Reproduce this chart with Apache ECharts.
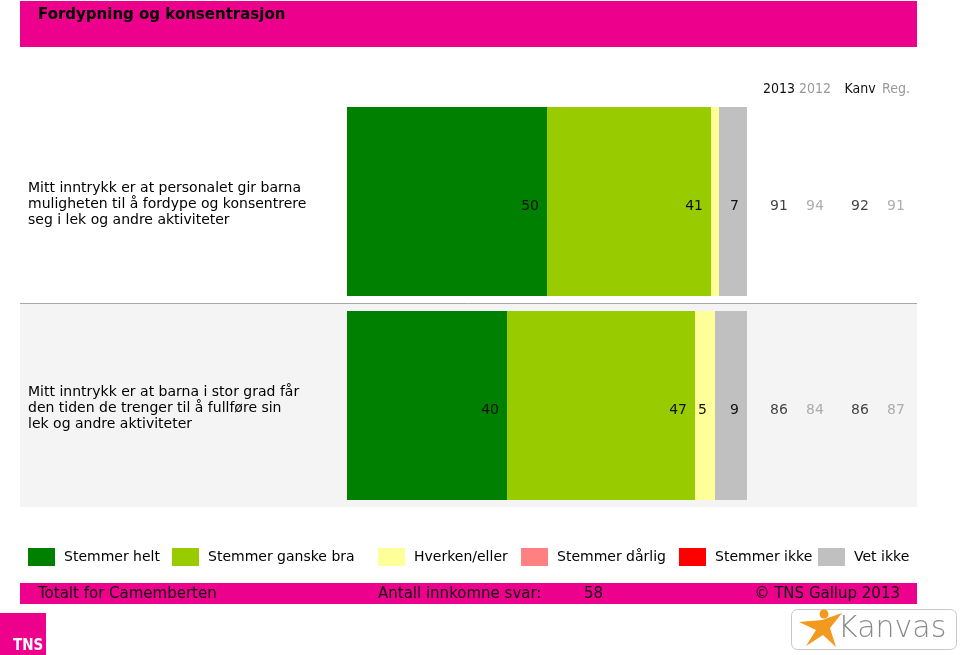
<!DOCTYPE html>
<html>
<head>
<meta charset="utf-8">
<script src="https://cdn.jsdelivr.net/npm/echarts@6/dist/echarts.min.js"></script>
<style>html,body{margin:0;padding:0;background:#fff}#c{width:960px;height:655px}</style>
</head>
<body>
<div id="c"></div>
<script>
// ---- data ----
const categories = [
  'Mitt inntrykk er at personalet gir barna\nmuligheten til å fordype og konsentrere\nseg i lek og andre aktiviteter',
  'Mitt inntrykk er at barna i stor grad får\nden tiden de trenger til å fullføre sin\nlek og andre aktiviteter'
];
const seriesNames = ['Stemmer helt', 'Stemmer ganske bra', 'Hverken/eller', 'Stemmer dårlig', 'Stemmer ikke', 'Vet ikke'];
const stemmerHelt = [50, 40];
const stemmerGanskeBra = [41, 47];
const hverkenEller = [2, 5];
const stemmerDarlig = [0, 0];
const stemmerIkke = [0, 0];
const vetIkke = [7, 9];
const compareHeadersA = ['2013', '2012'];
const compareHeadersB = ['Kanv', 'Reg.'];
const compare2013 = [91, 86];
const compare2012 = [94, 84];
const compareKanv = [92, 86];
const compareReg = [91, 87];
const chartTitle = 'Fordypning og konsentrasjon';
const footerLeft = 'Totalt for Camemberten';
const footerMid = 'Antall innkomne svar:';
const respondents = 58;
const footerRight = '© TNS Gallup 2013';

// ---- styles ----
const FONT = '"DejaVu Sans", Verdana, sans-serif';
const FONT_C = '"DejaVu Sans Condensed", "DejaVu Sans", sans-serif';
const MAGENTA = '#EC008C';
const colors = ['#008000', '#99CC00', '#FFFF99', '#FF8080', '#FF0000', '#C0C0C0'];
const values = [stemmerHelt, stemmerGanskeBra, hverkenEller, stemmerDarlig, stemmerIkke, vetIkke];

const barSeries = seriesNames.map((name, i) => ({
  name, type: 'bar', stack: 'total', xAxisIndex: 0, yAxisIndex: 0,
  barWidth: 189, data: values[i],
  itemStyle: { color: colors[i] },
  label: {
    show: true, position: 'insideRight', distance: 8, offset: [0, 5],
    color: '#111', fontFamily: FONT, fontSize: 14,
    formatter: p => (p.value >= 3 ? String(p.value) : '')
  }
}));

function cmpSeries(name, arr, col, axis, dark) {
  return {
    name, type: 'scatter', xAxisIndex: axis, yAxisIndex: axis,
    symbolSize: 1, itemStyle: { color: 'rgba(0,0,0,0)' },
    data: arr.map((v, i) => [col, i, v]),
    label: {
      show: true, position: 'inside', offset: [0, 5],
      color: dark ? '#111' : '#999', fontFamily: FONT, fontSize: 14,
      formatter: p => String(p.value[2])
    }
  };
}

const legendLefts = [28, 172, 378, 521, 679, 818];
const legends = seriesNames.map((n, i) => ({
  data: [n], left: legendLefts[i], top: 548, padding: 0, itemWidth: 27, itemHeight: 18,
  icon: 'rect', selectedMode: false, itemStyle: { borderWidth: 0 },
  textStyle: { fontFamily: FONT, fontSize: 14, color: '#000', padding: [0, 0, 0, 4] }
}));

const gridTop = 99.5, gridH = 408;
const hdrColor = (v, idx) => (idx === 0 ? '#111' : '#999');
const catY = (idx, showLabels) => ({
  type: 'category', gridIndex: idx, data: categories, inverse: true,
  axisLine: { show: false }, axisTick: { show: false }, splitLine: { show: false },
  axisLabel: { show: showLabels, align: 'left', margin: 319, fontFamily: FONT, fontSize: 14,
    lineHeight: 16, color: '#000' }
});
const hdrX = (idx, data) => ({
  type: 'category', gridIndex: idx, data, position: 'top',
  axisLine: { show: false }, axisTick: { show: false }, splitLine: { show: false },
  axisLabel: { interval: 0, margin: 3, fontFamily: FONT_C, fontSize: 14, color: hdrColor }
});

const option = {
  animation: false,
  backgroundColor: '#fff',
  grid: [
    { left: 347, top: gridTop, width: 400, height: gridH },
    { left: 761, top: gridTop, width: 72, height: gridH },
    { left: 842, top: gridTop, width: 72, height: gridH },
    { left: 347, top: gridTop + 3, width: 400, height: gridH }
  ],
  xAxis: [
    { type: 'value', gridIndex: 0, min: 0, max: 100, show: false },
    hdrX(1, compareHeadersA),
    hdrX(2, compareHeadersB),
    { type: 'value', gridIndex: 3, min: 0, max: 100, show: false }
  ],
  yAxis: [catY(0, false), catY(1, false), catY(2, false), catY(3, true)],
  legend: legends,
  series: barSeries.concat([
    cmpSeries('2013', compare2013, 0, 1, true),
    cmpSeries('2012', compare2012, 1, 1, false),
    cmpSeries('Kanv', compareKanv, 0, 2, true),
    cmpSeries('Reg.', compareReg, 1, 2, false)
  ]),
  graphic: [
    { type: 'rect', z: -10, shape: { x: 20, y: 1, width: 897, height: 46 }, style: { fill: MAGENTA } },
    { type: 'text', z: 10, x: 38, y: 15, style: { text: chartTitle, fill: '#000', font: 'bold 15px ' + FONT, textVerticalAlign: 'middle' } },
    { type: 'rect', z: -10, shape: { x: 20, y: 303, width: 897, height: 204 }, style: { fill: '#F4F4F4' } },
    { type: 'line', z: -9, shape: { x1: 20, y1: 303.5, x2: 917, y2: 303.5 }, style: { stroke: '#A8A8A8', lineWidth: 1 } },
    { type: 'rect', z: -10, shape: { x: 20, y: 583, width: 897, height: 21 }, style: { fill: MAGENTA } },
    { type: 'text', z: 10, x: 38, y: 594, style: { text: footerLeft, fill: '#111', font: '15px ' + FONT, textVerticalAlign: 'middle' } },
    { type: 'text', z: 10, x: 378, y: 594, style: { text: footerMid, fill: '#111', font: '15px ' + FONT, textVerticalAlign: 'middle' } },
    { type: 'text', z: 10, x: 584, y: 594, style: { text: String(respondents), fill: '#111', font: '15px ' + FONT, textVerticalAlign: 'middle' } },
    { type: 'text', z: 10, x: 900, y: 594, style: { text: footerRight, fill: '#111', font: '15px ' + FONT, textVerticalAlign: 'middle', textAlign: 'right' } },
    // TNS logo
    { type: 'rect', z: -10, shape: { x: 0, y: 613, width: 46, height: 42 }, style: { fill: MAGENTA } },
    { type: 'text', z: 10, x: 13, y: 646, style: { text: 'TNS', fill: '#fff', font: 'bold 15px ' + FONT_C, textVerticalAlign: 'middle' } },
    // Kanvas logo
    { type: 'rect', z: -10, shape: { x: 791.5, y: 609.5, width: 165, height: 40, r: 6 }, style: { fill: '#fff', stroke: '#C8C8C8', lineWidth: 1 } },
    { type: 'circle', z: 10, shape: { cx: 824, cy: 614, r: 4.5 }, style: { fill: '#F39A1E' } },
    { type: 'polygon', z: 10, shape: { points: [[799, 622], [822, 620], [842, 613], [830, 628], [836, 647], [823, 635], [806, 646], [816, 630]] }, style: { fill: '#F39A1E' } },
    { type: 'text', z: 10, x: 838, y: 629, style: { text: 'Kanvas', fill: '#8A8A8A', font: '300 30px ' + FONT, textVerticalAlign: 'middle' } }
  ]
};

const chart = echarts.init(document.getElementById('c'), null, { renderer: 'canvas' });
chart.setOption(option);
</script>
</body>
</html>
